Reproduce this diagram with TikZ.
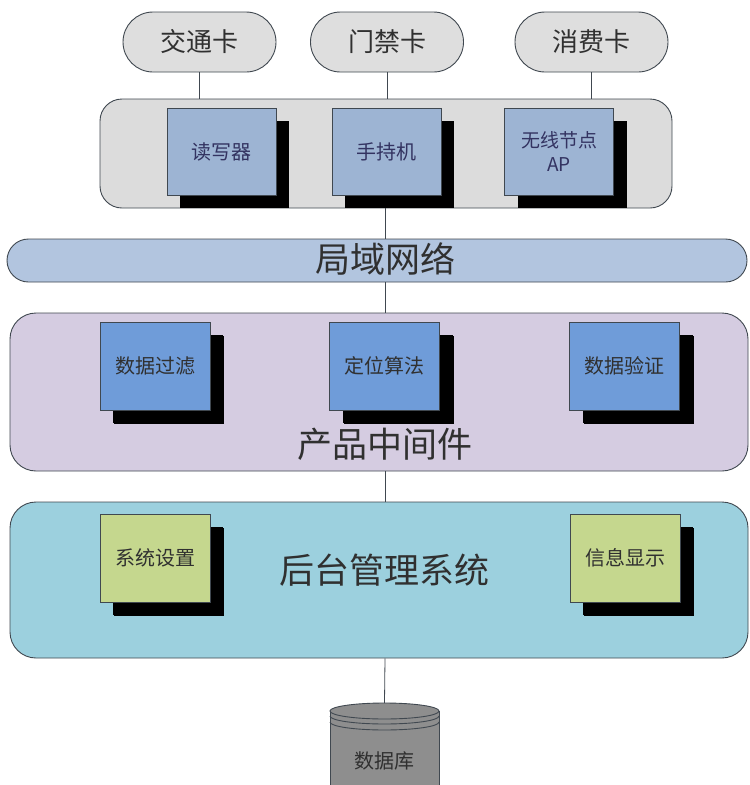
\documentclass[tikz,border=0pt]{standalone}
\usepackage{fontspec}
\newfontfamily\cjk{Noto Sans CJK SC}
\usetikzlibrary{shadows,shapes.misc}
\definecolor{pillgray}{HTML}{DEDEDE}
\definecolor{topgray}{HTML}{DCDCDC}
\definecolor{topblue}{HTML}{9DB4D3}
\definecolor{bandblue}{HTML}{B2C5DF}
\definecolor{midlav}{HTML}{D5CCE1}
\definecolor{midblue}{HTML}{6F9CD9}
\definecolor{backcyan}{HTML}{9CD0DE}
\definecolor{boxgreen}{HTML}{C5D78E}
\definecolor{dbgray}{HTML}{8E8E8E}
\definecolor{edge}{HTML}{404850}
\definecolor{txt}{HTML}{303030}
\begin{document}
\begin{tikzpicture}[x=1pt,y=-1pt,
  every node/.style={font=\cjk, text=txt, inner sep=0pt},
  pill/.style={rounded rectangle, draw=edge, line width=0.9pt, fill=pillgray,
     minimum width=153pt, minimum height=60pt, font=\cjk\fontsize{26}{30}\selectfont},
  layer/.style={draw=edge, line width=0.9pt, rounded corners=24pt},
  shbox/.style={draw=edge, line width=0.8pt, minimum width=109pt, minimum height=87pt,
     font=\cjk\fontsize{20}{24}\selectfont,
     general shadow={fill=black, shadow xshift=13pt, shadow yshift=-13pt}},
  biglabel/.style={font=\cjk\fontsize{35}{40}\selectfont},
  conn/.style={draw=edge, line width=0.8pt}]
\useasboundingbox (0,0) rectangle (750,785);
\clip (0,0) rectangle (750,785);

% cards
\node[pill] (card1) at (199.5,42) {交通卡};
\node[pill] (card2) at (387,42) {门禁卡};
\node[pill] (card3) at (591.5,42) {消费卡};

% device layer
\node[layer, fill=topgray, rounded corners=22pt, minimum width=572pt, minimum height=109pt] (top) at (386,153.5) {};
\node[shbox, fill=topblue, text=black!70!blue!60!gray] (reader) at (221.5,151.5) {读写器};
\node[shbox, fill=topblue, text=black!70!blue!60!gray] (hand) at (386.5,151.5) {手持机};
\node[shbox, fill=topblue, text=black!70!blue!60!gray, align=center, font=\cjk\fontsize{19}{24}\selectfont] (ap) at (559,151.5) {无线节点\\AP};

\draw[conn] (card1.south) -- (card1.south |- top.north);
\draw[conn] (card2.south) -- (card2.south |- top.north);
\draw[conn] (card3.south) -- (card3.south |- top.north);

% LAN band
\node[rounded rectangle, draw=edge, line width=0.9pt, fill=bandblue, minimum width=740pt, minimum height=43pt] (band) at (377,260.5) {};
\node[biglabel] (bandlabel) at (385,259) {局域网络};

% middleware
\node[layer, fill=midlav, rounded corners=26pt, minimum width=738pt, minimum height=158pt] (mid) at (379,392) {};
\node[shbox, fill=midblue, minimum width=110pt, minimum height=88pt, general shadow={fill=black, shadow xshift=14pt, shadow yshift=-14pt}] (filter) at (155,366) {数据过滤};
\node[shbox, fill=midblue, minimum width=110pt, minimum height=88pt, general shadow={fill=black, shadow xshift=14pt, shadow yshift=-14pt}] (locate) at (384.5,366) {定位算法};
\node[shbox, fill=midblue, minimum width=110pt, minimum height=88pt, general shadow={fill=black, shadow xshift=14pt, shadow yshift=-14pt}] (verify) at (624.5,366) {数据验证};
\node[biglabel] (midlabel) at (385,444) {产品中间件};

% backend
\node[layer, fill=backcyan, rounded corners=26pt, minimum width=738pt, minimum height=156pt] (back) at (379,580) {};
\node[shbox, fill=boxgreen, minimum width=110pt, minimum height=88pt, general shadow={fill=black, shadow xshift=14pt, shadow yshift=-14pt}] (setting) at (155,558) {系统设置};
\node[shbox, fill=boxgreen, minimum width=110pt, minimum height=88pt, general shadow={fill=black, shadow xshift=14pt, shadow yshift=-14pt}] (display) at (625,558) {信息显示};
\node[biglabel] (backlabel) at (384,570) {后台管理系统};

% database
\fill[dbgray] (330,711) rectangle (439,800);
\draw[edge, line width=0.9pt] (330,711) -- (330,800) (439,711) -- (439,800);
\draw[edge, line width=0.9pt, fill=dbgray] (384.5,711) ellipse [x radius=54.5, y radius=8];
\draw[edge, line width=0.9pt] (330,716) arc[start angle=180, end angle=0, x radius=54.5, y radius=8];
\draw[edge, line width=0.9pt] (330,722) arc[start angle=180, end angle=0, x radius=54.5, y radius=8];
\node[font=\cjk\fontsize{20}{24}\selectfont] (db) at (384.5,761) {数据库};
\coordinate (dbtop) at (384.5,703);

% spine connectors
\coordinate (spine) at (385,0);
\draw[conn] (spine |- top.south) -- (spine |- band.north);
\draw[conn] (spine |- band.south) -- (spine |- mid.north);
\draw[conn] (spine |- mid.south) -- (spine |- back.north);
\draw[conn] (spine |- back.south) -- (dbtop);
\end{tikzpicture}
\end{document}
